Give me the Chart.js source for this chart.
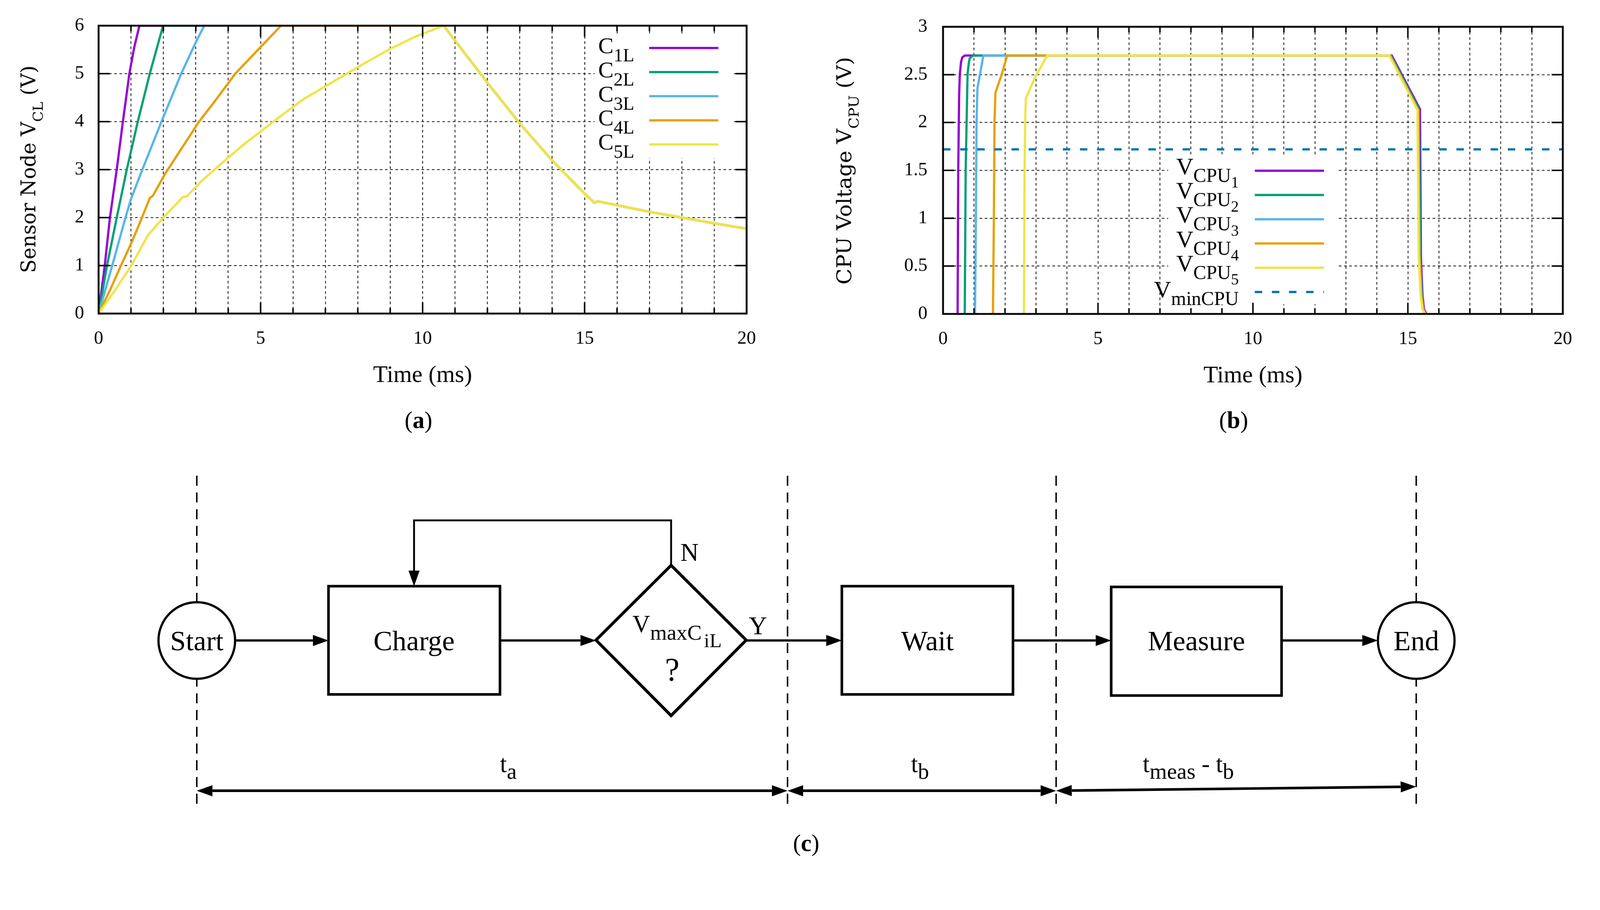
<!DOCTYPE html>
<html>
<head>
<meta charset="utf-8">
<title>Sensor node / CPU voltage and measurement flow</title>
<script src="https://cdn.jsdelivr.net/npm/chart.js@4.4.1/dist/chart.umd.min.js"></script>
<style>
  html, body { margin: 0; padding: 0; background: #fff; overflow: hidden; }
  #page { position: absolute; left: 0; top: 0; width: 4301px; height: 2330px; transform-origin: 0 0;
          font-family: 'Liberation Serif', serif; color: #000; background: #fff; }
  .plot { position: absolute; top: 0; height: 1200px; }
  .cap { position: absolute; transform: translate(-50%, -50%); font-size: 64px; line-height: 1; white-space: nowrap; }
  svg { position: absolute; left: 0; top: 0; }
</style>
</head>
<body>
<div id="page">
<div class="plot" style="left:0;width:2150px"><canvas id="chart-a"></canvas></div>
<div class="plot" style="left:2150px;width:2151px"><canvas id="chart-b"></canvas></div>

<div class="cap" style="left:1125px;top:1130px">(<b>a</b>)</div>
<div class="cap" style="left:3316px;top:1130px">(<b>b</b>)</div>
<div class="cap" style="left:2167px;top:2267px">(<b>c</b>)</div>

<!-- (c) flow diagram -->
<svg width="4301" height="2330" viewBox="0 0 4301 2330" font-family="'Liberation Serif', serif">
  <defs>
    <marker id="arrow" viewBox="0 0 42 30" refX="0" refY="15" markerWidth="42" markerHeight="30"
            markerUnits="userSpaceOnUse" orient="auto-start-reverse">
      <path d="M0,0 L42,15 L0,30 Z" fill="#000"/>
    </marker>
  </defs>
  <g stroke="#000" stroke-width="4" stroke-dasharray="27 18" fill="none">
    <line x1="529" y1="1279" x2="529" y2="2162"/>
    <line x1="2117" y1="1279" x2="2117" y2="2162"/>
    <line x1="2839" y1="1279" x2="2839" y2="2162"/>
    <line x1="3807" y1="1279" x2="3807" y2="2162"/>
  </g>
  <g stroke="#000" fill="#fff">
    <circle cx="529" cy="1722" r="103" stroke-width="6"/>
    <circle cx="3807" cy="1722" r="103" stroke-width="6"/>
    <rect x="883" y="1576" width="461" height="291" stroke-width="7"/>
    <rect x="2263" y="1576" width="460" height="291" stroke-width="7"/>
    <rect x="2987" y="1578" width="458" height="292" stroke-width="7"/>
    <polygon points="1804,1520 2006,1721 1804,1924 1602,1721" stroke-width="8" stroke-linejoin="miter"/>
  </g>
  <g stroke="#000" stroke-width="6" fill="none">
    <path d="M632,1722 H841" marker-end="url(#arrow)"/>
    <path d="M1344,1722 H1560" marker-end="url(#arrow)"/>
    <path d="M2006,1722 H2221" marker-end="url(#arrow)"/>
    <path d="M2723,1722 H2945" marker-end="url(#arrow)"/>
    <path d="M3445,1722 H3662" marker-end="url(#arrow)"/>
    <path d="M1804,1520 V1399 H1113 V1534" stroke-width="5" marker-end="url(#arrow)"/>
  </g>
  <g stroke="#000" stroke-width="7" fill="none">
    <path d="M571,2126 H2075" marker-start="url(#arrow)" marker-end="url(#arrow)"/>
    <path d="M2159,2126 H2797" marker-start="url(#arrow)" marker-end="url(#arrow)"/>
    <path d="M2881,2125.5 L3765,2115.5" marker-start="url(#arrow)" marker-end="url(#arrow)"/>
  </g>
  <g fill="#000" font-size="76" text-anchor="middle">
    <text x="529" y="1748">Start</text>
    <text x="1113" y="1748">Charge</text>
    <text x="2493" y="1748">Wait</text>
    <text x="3216" y="1748">Measure</text>
    <text x="3807" y="1748">End</text>
    <text x="1807" y="1830" font-size="88">?</text>
  </g>
  <g fill="#000">
    <text x="1829" y="1508" font-size="68">N</text>
    <text x="2013" y="1705" font-size="68">Y</text>
    <text x="1700" y="1700" font-size="66">V<tspan font-size="58" dy="20">maxC</tspan><tspan font-size="54" dx="6" dy="20">iL</tspan></text>
    <text x="1344" y="2076" font-size="66">t<tspan font-size="60" dy="18">a</tspan></text>
    <text x="2449" y="2076" font-size="66">t<tspan font-size="60" dy="18">b</tspan></text>
    <text x="3072" y="2076" font-size="66">t<tspan font-size="60" dy="18">meas</tspan><tspan dy="-18"> - t</tspan><tspan font-size="60" dy="18">b</tspan></text>
  </g>
</svg>
</div>

<script>
// fit the 4301x2330 layout to whatever CSS viewport we get
const page = document.getElementById('page');
const fit = Math.min(window.innerWidth / 4301, window.innerHeight / 2330);
page.style.transform = `scale(${fit})`;

// ---- (a) sensor node voltage V_CL, time in ms ----
const tC1L = [0, 0.19, 0.35, 0.56, 0.75, 0.95, 1.1, 1.26];
const vC1L = [0, 1, 2, 3, 4, 5, 5.55, 6];
const tC2L = [0, 0.26, 0.56, 0.87, 1.21, 1.58, 1.99];
const vC2L = [0, 1, 2, 3, 4, 5, 6];
const tC3L = [0, 0.42, 0.83, 1.0, 1.35, 1.94, 2.55, 2.99, 3.26];
const vC3L = [0, 1, 2, 2.39, 3, 4, 5, 5.64, 6];
const tC4L = [0, 0.36, 0.69, 1.03, 1.34, 1.58, 1.67, 1.82, 2.05, 2.58, 3.1, 3.57, 4.22, 4.98, 5.63];
const vC4L = [0, 0.5, 1, 1.5, 2, 2.41, 2.45, 2.63, 2.91, 3.46, 4.0, 4.41, 5.0, 5.54, 6];
const tC5L = [0, 0.48, 1.0, 1.53, 2.0, 2.35, 2.6, 2.72, 3.19, 3.81, 4.51, 5.45, 6.33, 7.56, 8.32, 9.01, 9.8, 10.65];
const vC5L = [0, 0.46, 0.99, 1.64, 2.0, 2.25, 2.43, 2.44, 2.77, 3.14, 3.54, 4.03, 4.47, 4.96, 5.26, 5.52, 5.78, 6.0];
// common discharge after the 6 V plateau
const tFall = [10.65, 12, 13, 14, 15, 15.3, 15.4, 17, 18, 19, 20];
const vFall = [6, 4.81, 3.96, 3.19, 2.5, 2.31, 2.34, 2.12, 2.0, 1.88, 1.77];

// ---- (b) CPU voltage ----
const tCPU1 = [0.47, 0.49, 0.52, 0.54, 0.58, 0.62, 0.70, 14.48, 15.39, 15.42, 15.47, 15.52, 15.6];
const vCPU1 = [0, 1.5, 2.3, 2.5, 2.63, 2.68, 2.7, 2.7, 2.14, 0.6, 0.2, 0.05, 0];
const tCPU2 = [0.70, 0.73, 0.79, 0.83, 0.86, 0.93, 0.98, 14.45, 15.36, 15.40, 15.45, 15.5, 15.58];
const vCPU2 = [0, 1.5, 2.5, 2.62, 2.67, 2.69, 2.7, 2.7, 2.14, 0.6, 0.2, 0.05, 0];
const tCPU3 = [1.03, 1.06, 1.08, 1.11, 1.19, 1.30, 14.43, 15.34, 15.38, 15.44, 15.5, 15.57];
const vCPU3 = [0, 1, 2, 2.36, 2.5, 2.7, 2.7, 2.13, 0.6, 0.2, 0.05, 0];
const tCPU4 = [1.61, 1.64, 1.66, 1.69, 1.89, 2.07, 14.42, 15.33, 15.37, 15.43, 15.49, 15.56];
const vCPU4 = [0, 1, 2, 2.31, 2.5, 2.7, 2.7, 2.13, 0.6, 0.2, 0.05, 0];
const tCPU5 = [2.61, 2.63, 2.65, 2.67, 2.95, 3.36, 14.40, 15.31, 15.35, 15.41, 15.47, 15.55];
const vCPU5 = [0, 1.5, 2.0, 2.25, 2.46, 2.7, 2.7, 2.13, 0.6, 0.2, 0.05, 0];
const tMinCPU = [0, 20];
const vMinCPU = [1.72, 1.72];

const xTickLabels = [0, 5, 10, 15, 20];

const SERIF = "'Liberation Serif', serif";
const WIDE_SERIF = "'DejaVu Serif', serif";
const COLORS = ['#9400d3', '#009e73', '#56b4e9', '#e69f00', '#f0e442'];
const VMIN_COLOR = '#0072b2';

const pts = (t, v) => t.map((x, i) => ({ x, y: v[i] }));

function line(data, color, order, extra) {
  return Object.assign({ data, borderColor: color, borderWidth: 6, showLine: true, pointRadius: 0, fill: false, order }, extra || {});
}

// rich text: parts = [text, size, dy]
function partsWidth(ctx, parts, family) {
  return parts.reduce((w, [txt, size]) => { ctx.font = `${size}px ${family}`; return w + ctx.measureText(txt).width; }, 0);
}
function drawParts(ctx, parts, x, y, family) {
  let cx = x;
  parts.forEach(([txt, size, dy]) => {
    ctx.font = `${size}px ${family}`;
    ctx.fillText(txt, cx, y + dy);
    cx += ctx.measureText(txt).width;
  });
}

// gnuplot-ish frame, inward ticks, boxed key and y label with subscripts
function gnuplotLook(c) {
  return {
    id: 'gnuplotLook',
    beforeDatasetsDraw(chart) {
      const b = c.legend.box, ctx = chart.ctx;
      ctx.save();
      ctx.fillStyle = '#fff';
      ctx.fillRect(b[0], b[1], b[2] - b[0], b[3] - b[1]);
      ctx.restore();
    },
    afterDatasetsDraw(chart) {
      const ctx = chart.ctx, L = c.legend;
      ctx.save();
      ctx.fillStyle = '#000';
      ctx.textBaseline = 'alphabetic';
      L.entries.forEach((parts, i) => {
        const ds = chart.data.datasets[i];
        const y = L.y0 + i * L.dy;
        drawParts(ctx, parts, L.textRight - partsWidth(ctx, parts, SERIF), y, SERIF);
        ctx.strokeStyle = ds.borderColor;
        ctx.lineWidth = ds.borderWidth;
        ctx.setLineDash(ds.borderDash || []);
        ctx.beginPath(); ctx.moveTo(L.x0, y); ctx.lineTo(L.x1, y); ctx.stroke();
      });
      ctx.restore();
    },
    afterDraw(chart) {
      const { ctx, chartArea: a, scales: { x, y } } = chart;
      ctx.save();
      ctx.strokeStyle = '#000';
      ctx.lineWidth = 4;
      ctx.beginPath();
      x.ticks.forEach(t => {
        const px = x.getPixelForValue(t.value);
        const len = xTickLabels.includes(t.value) ? 30 : 15;
        ctx.moveTo(px, a.bottom); ctx.lineTo(px, a.bottom - len);
        ctx.moveTo(px, a.top); ctx.lineTo(px, a.top + len);
      });
      y.ticks.forEach(t => {
        const py = y.getPixelForValue(t.value);
        ctx.moveTo(a.left, py); ctx.lineTo(a.left + 30, py);
        ctx.moveTo(a.right, py); ctx.lineTo(a.right - 30, py);
      });
      ctx.stroke();
      ctx.lineWidth = 5;
      ctx.strokeRect(a.left, a.top, a.right - a.left, a.bottom - a.top);

      const T = c.yTitle;
      ctx.fillStyle = '#000';
      ctx.textBaseline = 'alphabetic';
      ctx.translate(T.x, T.y);
      ctx.rotate(-Math.PI / 2);
      const w = partsWidth(ctx, T.parts, WIDE_SERIF);
      ctx.scale(T.len / w, 1);
      drawParts(ctx, T.parts, -w / 2, 0, WIDE_SERIF);
      ctx.restore();
    }
  };
}

function makeChart(id, c) {
  const gridX = { color: '#000', lineWidth: 2, drawTicks: false, borderDash: [7, 7] };
  const border = { display: false, dash: [7, 7] };
  return new Chart(document.getElementById(id), {
    type: 'scatter',
    data: { datasets: c.datasets },
    options: {
      animation: false,
      responsive: true,
      maintainAspectRatio: false,
      layout: { padding: c.padding },
      plugins: { legend: { display: false }, tooltip: { enabled: false } },
      elements: { line: { tension: 0 } },
      scales: {
        x: {
          type: 'linear', min: 0, max: 20,
          afterFit: s => { s.height = 220; },
          ticks: {
            stepSize: 1, autoSkip: false, maxRotation: 0, padding: 38, color: '#000',
            font: { family: SERIF, size: 50 },
            callback: v => xTickLabels.includes(v) ? String(v) : ''
          },
          grid: gridX,
          border,
          title: { display: true, text: 'Time (ms)', color: '#000', font: { family: SERIF, size: 64 }, padding: { top: 0, bottom: 14 } }
        },
        y: {
          type: 'linear', min: 0, max: c.yMax,
          afterFit: s => { s.width = 200; },
          ticks: { stepSize: c.yStep, padding: c.yPad, color: '#000', font: { family: SERIF, size: 50 }, callback: v => String(v) },
          grid: gridX,
          border
        }
      }
    },
    plugins: [gnuplotLook(c)]
  });
}

// --- (a) ---
makeChart('chart-a', {
  padding: { left: 65, top: 68, right: 143, bottom: 137 },
  yMax: 6, yStep: 1, yPad: 39,
  datasets: [
    line(pts(tC1L.concat(tFall), vC1L.concat(vFall)), COLORS[0], 5),
    line(pts(tC2L.concat(tFall), vC2L.concat(vFall)), COLORS[1], 4),
    line(pts(tC3L.concat(tFall), vC3L.concat(vFall)), COLORS[2], 3),
    line(pts(tC4L.concat(tFall), vC4L.concat(vFall)), COLORS[3], 2),
    line(pts(tC5L.concat(tFall), vC5L.concat(vFall)), COLORS[4], 1)
  ],
  legend: {
    box: [1598, 96, 1972, 425],
    x0: 1745, x1: 1931, y0: 129, dy: 64.8, textRight: 1705,
    entries: ['1L', '2L', '3L', '4L', '5L'].map(s => [['C', 62, 14], [s, 50, 36]])
  },
  yTitle: { x: 95, y: 455, len: 558, parts: [['Sensor Node V', 54, 0], ['CL', 38, 20], [' (V)', 54, 0]] }
});

// --- (b) ---
makeChart('chart-b', {
  padding: { left: 185, top: 67, right: 100, bottom: 136 },
  yMax: 3, yStep: 0.5, yPad: 42,
  datasets: [
    line(pts(tCPU1, vCPU1), COLORS[0], 5),
    line(pts(tCPU2, vCPU2), COLORS[1], 4),
    line(pts(tCPU3, vCPU3), COLORS[2], 3),
    line(pts(tCPU4, vCPU4), COLORS[3], 2),
    line(pts(tCPU5, vCPU5), COLORS[4], 1),
    line(pts(tMinCPU, vMinCPU), VMIN_COLOR, 0, { borderDash: [20, 26] })
  ],
  legend: {
    box: [990, 422, 1448, 818],
    x0: 1223, x1: 1409, y0: 459, dy: 65.2, textRight: 1180,
    entries: ['1', '2', '3', '4', '5'].map(n => [['V', 64, 10], ['CPU', 52, 30], [n, 42, 45]])
      .concat([[['V', 64, 15], ['minCPU', 52, 35]]])
  },
  yTitle: { x: 138, y: 459, len: 612, parts: [['CPU Voltage V', 54, 0], ['CPU', 38, 20], [' (V)', 54, 0]] }
});
</script>
</body>
</html>
